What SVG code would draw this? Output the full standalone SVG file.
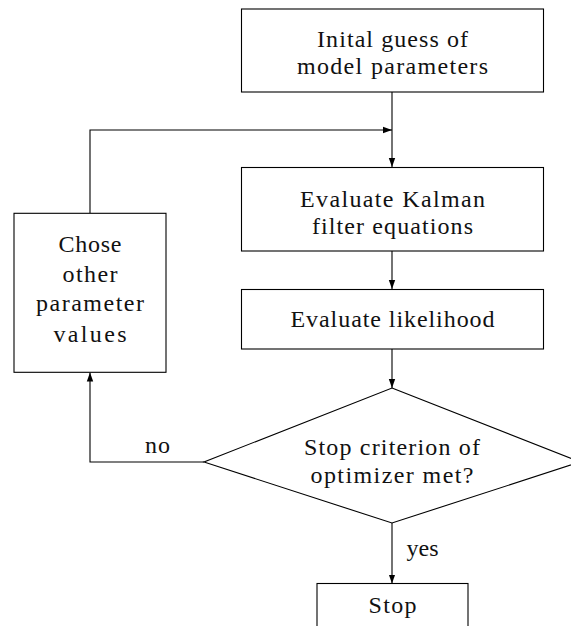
<svg xmlns="http://www.w3.org/2000/svg" width="571" height="626" viewBox="0 0 571 626">
<style>
.box{fill:#fff;stroke:#000;stroke-width:1.1}
.t{font-family:"Liberation Serif","Times New Roman",serif;font-size:24px;fill:#111;text-anchor:middle}
.c{fill:none;stroke:#000;stroke-width:1.1}
</style>
<defs>
<marker id="ah" markerWidth="9" markerHeight="8" refX="9" refY="4" orient="auto" markerUnits="userSpaceOnUse">
<path d="M0,0.8 L9,4 L0,7.2 Z" fill="#000"/>
</marker>
</defs>
<rect width="571" height="626" fill="#fff"/>
<g id="connectors">
<path class="c" d="M392,92 V167" marker-end="url(#ah)"/>
<path class="c" d="M90,213 V130 H392" marker-end="url(#ah)"/>
<path class="c" d="M392,251 V289" marker-end="url(#ah)"/>
<path class="c" d="M392,349 V388" marker-end="url(#ah)"/>
<path class="c" d="M204,462 H90 V372.5" marker-end="url(#ah)"/>
<path class="c" d="M392,523 V583.5" marker-end="url(#ah)"/>
</g>
<g id="init">
<rect class="box" x="241.5" y="9" width="302" height="83"/>
<text class="t" x="392.5" y="47" textLength="151">Inital guess of</text>
<text class="t" x="392.5" y="74" textLength="191">model parameters</text>
</g>
<g id="kalman">
<rect class="box" x="241.5" y="167.5" width="302" height="83.5"/>
<text class="t" x="392.5" y="207" textLength="185">Evaluate Kalman</text>
<text class="t" x="392.5" y="234" textLength="161">filter equations</text>
</g>
<g id="likelihood">
<rect class="box" x="241.5" y="289.5" width="302" height="59.5"/>
<text class="t" x="392.5" y="327" textLength="204">Evaluate likelihood</text>
</g>
<g id="chose">
<rect class="box" x="14" y="213.3" width="152" height="159"/>
<text class="t" x="90" y="251.5" textLength="63">Chose</text>
<text class="t" x="90" y="281.5" textLength="55">other</text>
<text class="t" x="90" y="310.5" textLength="108">parameter</text>
<text class="t" x="90" y="341.5" textLength="73">values</text>
</g>
<g id="decision">
<polygon class="box" points="392,388 580,462 392,523 204,462"/>
<text class="t" x="392" y="455" textLength="176">Stop criterion of</text>
<text class="t" x="392" y="483" textLength="163">optimizer met?</text>
</g>
<g id="stop">
<rect class="box" x="317" y="583.5" width="151" height="60"/>
<text class="t" x="392.5" y="613" textLength="48">Stop</text>
</g>
<g id="labels">
<text class="t" x="422.5" y="556" textLength="32">yes</text>
<text class="t" x="157.5" y="452.5" textLength="25">no</text>
</g>
</svg>
